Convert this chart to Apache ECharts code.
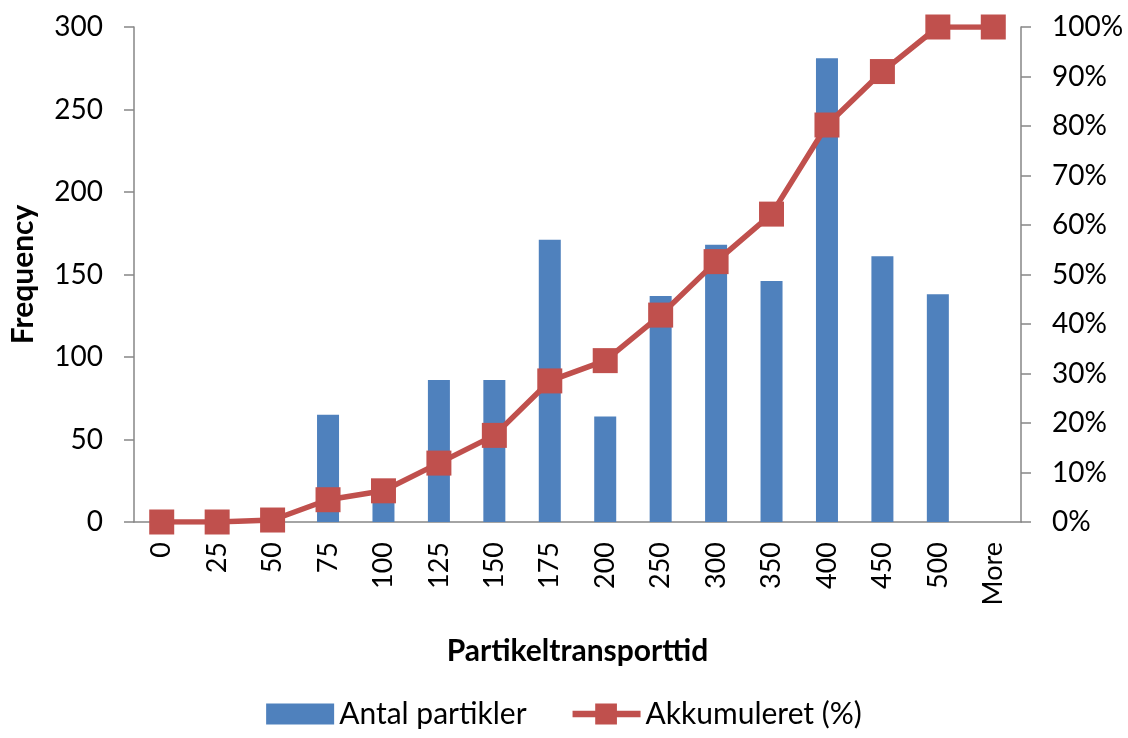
<!DOCTYPE html>
<html>
<head>
<meta charset="utf-8">
<script src="https://cdn.jsdelivr.net/npm/echarts@6/dist/echarts.min.js"></script>
<style>
  html, body { margin: 0; padding: 0; background: #fff; }
  #chart { width: 1128px; height: 738px; }
</style>
</head>
<body>
<div id="chart"></div>
<script>
// Bin labels (particle transport time)
const categories = ['0', '25', '50', '75', '100', '125', '150', '175', '200', '250', '300', '350', '400', '450', '500', 'More'];
// Number of particles per bin
const antalPartikler = [0, 0, 5, 65, 24, 86, 86, 171, 64, 137, 168, 146, 281, 161, 138, 0];
// Cumulative share in percent
const akkumuleret = [0, 0, 0.4, 4.5, 6.3, 11.9, 17.5, 28.5, 32.6, 41.8, 52.6, 62.2, 80.2, 91.0, 100, 100];

const FONT = 'Lato, "Open Sans", sans-serif';
const axisGray = '#868686';
const textColor = '#000000';
const red = '#C0504D';

// Legend glyph for the cumulative line: a thick stroke with a square marker in the middle
const lineWithSquare = 'path://M0,7.5H24V0H47V7.5H72V14.5H47V22H24V14.5H0Z';

const chart = echarts.init(document.getElementById('chart'), null, { renderer: 'canvas' });
chart.setOption({
  animation: false,
  textStyle: { fontFamily: FONT },
  grid: { left: 131, right: 107, top: 27, bottom: 216, containLabel: false },
  legend: {
    bottom: 4,
    left: 'center',
    itemGap: 46,
    itemWidth: 68,
    itemHeight: 21,
    textStyle: { fontSize: 30, color: textColor, fontFamily: FONT },
    data: [
      { name: 'Antal partikler', icon: 'rect' },
      { name: 'Akkumuleret (%)', icon: lineWithSquare }
    ]
  },
  xAxis: {
    type: 'category',
    data: categories,
    boundaryGap: true,
    name: 'Partikeltransporttid',
    nameLocation: 'middle',
    nameGap: 114,
    nameTextStyle: { fontSize: 30, fontWeight: 'bold', color: textColor, fontFamily: FONT },
    axisLine: { lineStyle: { color: axisGray, width: 1.5 } },
    axisTick: { alignWithLabel: false, length: 10, lineStyle: { color: axisGray, width: 1.5 } },
    axisLabel: { rotate: 90, fontSize: 27, color: textColor, margin: 20, interval: 0 },
    splitLine: { show: false }
  },
  yAxis: [
    {
      type: 'value',
      min: 0, max: 300, interval: 50,
      name: 'Frequency',
      nameLocation: 'middle',
      nameGap: 96,
      nameRotate: 90,
      nameTextStyle: { fontSize: 30, fontWeight: 'bold', color: textColor, fontFamily: FONT },
      axisLine: { show: true, lineStyle: { color: axisGray, width: 1.5 } },
      axisTick: { show: true, length: 10, lineStyle: { color: axisGray, width: 1.5 } },
      axisLabel: { fontSize: 28, color: textColor, margin: 31 },
      splitLine: { show: false }
    },
    {
      type: 'value',
      min: 0, max: 100, interval: 10,
      position: 'right',
      axisLine: { show: true, lineStyle: { color: axisGray, width: 1.5 } },
      axisTick: { show: true, length: 10, lineStyle: { color: axisGray, width: 1.5 } },
      axisLabel: { fontSize: 28, color: textColor, margin: 31, formatter: '{value}%' },
      splitLine: { show: false }
    }
  ],
  series: [
    {
      name: 'Antal partikler',
      type: 'bar',
      data: antalPartikler,
      barWidth: 22,
      itemStyle: { color: '#4F81BD' }
    },
    {
      name: 'Akkumuleret (%)',
      type: 'line',
      yAxisIndex: 1,
      data: akkumuleret,
      symbol: 'rect',
      symbolSize: 25,
      lineStyle: { color: red, width: 5.5 },
      itemStyle: { color: red }
    }
  ]
});
</script>
</body>
</html>
